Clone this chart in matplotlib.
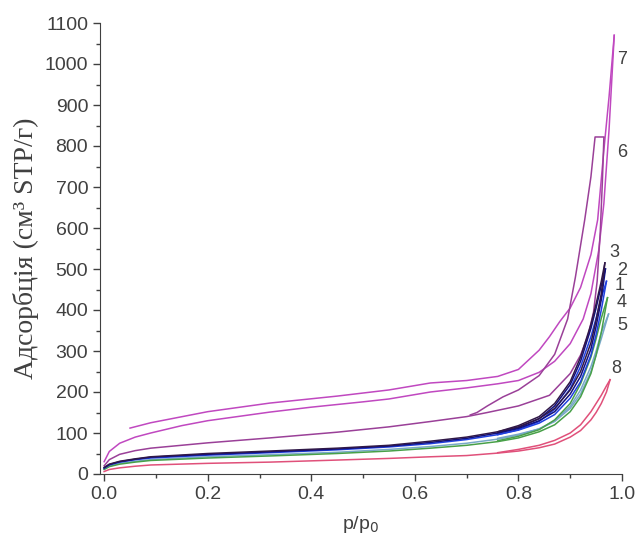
import matplotlib.pyplot as plt
from matplotlib.ticker import MultipleLocator

# isotherms: adsorption branch (a) and desorption branch (d) for each sample
p7a = [0.0, 0.01, 0.03, 0.06, 0.09, 0.15, 0.2, 0.28, 0.32, 0.4, 0.5, 0.55, 0.63, 0.7, 0.76, 0.8, 0.84, 0.87, 0.9, 0.925, 0.94, 0.955, 0.965, 0.975, 0.985]
v7a = [30, 55, 75, 90, 100, 118, 130, 144, 151, 163, 176, 183, 200, 210, 220, 228, 248, 275, 318, 378, 440, 545, 660, 840, 1070]
p7d = [0.985, 0.975, 0.965, 0.953, 0.94, 0.92, 0.9, 0.88, 0.86, 0.84, 0.8, 0.76, 0.7, 0.63, 0.55, 0.45, 0.32, 0.2, 0.09, 0.05]
v7d = [1070, 920, 790, 620, 535, 455, 405, 372, 335, 302, 255, 238, 228, 222, 205, 190, 173, 152, 125, 112]

p6a = [0.0, 0.01, 0.03, 0.06, 0.09, 0.2, 0.32, 0.45, 0.55, 0.63, 0.7, 0.74, 0.8, 0.86, 0.9, 0.92, 0.935, 0.945, 0.952, 0.958, 0.962, 0.965]
v6a = [20, 35, 48, 57, 63, 76, 88, 102, 115, 128, 140, 150, 166, 192, 245, 290, 340, 395, 470, 590, 710, 820]
p6d = [0.965, 0.948, 0.94, 0.928, 0.91, 0.895, 0.87, 0.84, 0.8, 0.77, 0.74, 0.72, 0.707]
v6d = [822, 822, 725, 620, 480, 378, 292, 240, 205, 188, 166, 150, 144]

p3a = [0.0, 0.01, 0.03, 0.06, 0.09, 0.2, 0.32, 0.45, 0.55, 0.63, 0.7, 0.76, 0.8, 0.84, 0.87, 0.9, 0.92, 0.94, 0.95, 0.96, 0.967]
v3a = [16, 24, 31, 37, 42, 50, 56, 63, 70, 80, 90, 103, 115, 135, 160, 205, 250, 320, 375, 440, 515]
p3d = [0.967, 0.96, 0.95, 0.94, 0.92, 0.9, 0.87, 0.84, 0.8, 0.76]
v3d = [515, 470, 415, 365, 285, 225, 172, 140, 118, 103]

p2a = [0.0, 0.01, 0.03, 0.06, 0.09, 0.2, 0.32, 0.45, 0.55, 0.63, 0.7, 0.76, 0.8, 0.84, 0.87, 0.9, 0.92, 0.94, 0.95, 0.96, 0.968]
v2a = [15, 23, 30, 36, 41, 48, 54, 61, 68, 77, 87, 100, 111, 130, 152, 195, 238, 305, 360, 425, 500]
p2d = [0.968, 0.96, 0.95, 0.94, 0.92, 0.9, 0.87, 0.84, 0.8, 0.76]
v2d = [500, 460, 405, 355, 275, 218, 166, 135, 113, 100]

p1a = [0.0, 0.01, 0.03, 0.06, 0.09, 0.2, 0.32, 0.45, 0.55, 0.63, 0.7, 0.76, 0.8, 0.84, 0.87, 0.9, 0.92, 0.94, 0.95, 0.96, 0.97]
v1a = [14, 22, 29, 35, 39, 46, 52, 59, 66, 74, 84, 96, 107, 124, 145, 185, 225, 290, 340, 400, 470]
p1d = [0.97, 0.96, 0.95, 0.94, 0.92, 0.9, 0.87, 0.84, 0.8, 0.76]
v1d = [470, 430, 380, 335, 262, 208, 158, 128, 108, 96]

p4a = [0.0, 0.01, 0.03, 0.06, 0.09, 0.2, 0.32, 0.45, 0.55, 0.63, 0.7, 0.76, 0.8, 0.84, 0.87, 0.9, 0.92, 0.94, 0.95, 0.96, 0.972]
v4a = [11, 18, 24, 29, 33, 39, 44, 50, 56, 63, 70, 79, 88, 103, 120, 152, 188, 245, 290, 345, 430]
p4d = [0.972, 0.96, 0.95, 0.94, 0.92, 0.9, 0.87, 0.84, 0.8, 0.76]
v4d = [430, 380, 330, 285, 220, 172, 132, 108, 92, 81]

p5a = [0.0, 0.01, 0.03, 0.06, 0.09, 0.2, 0.32, 0.45, 0.55, 0.63, 0.7, 0.76, 0.8, 0.84, 0.87, 0.9, 0.92, 0.94, 0.95, 0.96, 0.974]
v5a = [12, 19, 26, 31, 35, 42, 47, 53, 60, 67, 75, 85, 95, 110, 128, 160, 195, 250, 290, 330, 390]
p5d = [0.974, 0.96, 0.95, 0.94, 0.92, 0.9, 0.87, 0.84, 0.8, 0.76]
v5d = [390, 345, 300, 262, 205, 165, 130, 110, 97, 87]

p8a = [0.0, 0.01, 0.03, 0.06, 0.09, 0.2, 0.32, 0.45, 0.55, 0.63, 0.7, 0.76, 0.8, 0.84, 0.87, 0.9, 0.92, 0.94, 0.95, 0.96, 0.97, 0.977]
v8a = [6, 11, 15, 19, 22, 26, 29, 34, 38, 42, 45, 51, 56, 64, 73, 90, 106, 132, 150, 172, 200, 230]
p8d = [0.977, 0.97, 0.96, 0.94, 0.92, 0.9, 0.87, 0.84, 0.8, 0.76]
v8d = [230, 215, 192, 152, 120, 100, 82, 70, 60, 52]

series = [
    ("7", p7a, v7a, p7d, v7d, "#c048c0"),
    ("6", p6a, v6a, p6d, v6d, "#9a4098"),
    ("5", p5a, v5a, p5d, v5d, "#78a8c8"),
    ("4", p4a, v4a, p4d, v4d, "#48a048"),
    ("1", p1a, v1a, p1d, v1d, "#2040e0"),
    ("2", p2a, v2a, p2d, v2d, "#101080"),
    ("3", p3a, v3a, p3d, v3d, "#301848"),
    ("8", p8a, v8a, p8d, v8d, "#e0507a"),
]

# where the curve numbers sit
lab_x = {"7": 0.99, "6": 0.99, "3": 0.975, "2": 0.99, "1": 0.985, "4": 0.99, "5": 0.99, "8": 0.98}
lab_y = {"7": 1010, "6": 785, "3": 540, "2": 497, "1": 460, "4": 418, "5": 362, "8": 258}

fig = plt.figure(figsize=(6.35, 5.47), dpi=100)
ax = fig.add_axes([100/635, 1 - 474/547, 522/635, 451/547])

for name, pa, va, pd_, vd, c in series:
    ax.plot(pa, va, color=c, lw=1.1)
    ax.plot(pd_, vd, color=c, lw=1.1)

for name in lab_x:
    ax.text(lab_x[name], lab_y[name], name, fontsize=13, color="#404040",
            ha="left", va="center", family="Liberation Sans", clip_on=False)

ax.set_xlim(-0.008, 1.0)
ax.set_ylim(0, 1100)
ax.xaxis.set_major_locator(MultipleLocator(0.2))
ax.xaxis.set_minor_locator(MultipleLocator(0.1))
ax.yaxis.set_major_locator(MultipleLocator(100))
ax.yaxis.set_minor_locator(MultipleLocator(50))
ax.tick_params(which="major", direction="out", length=5, width=1, labelsize=14, colors="#404040")
ax.tick_params(which="minor", direction="out", length=3, width=1, colors="#404040")
for lbl in ax.get_xticklabels() + ax.get_yticklabels():
    lbl.set_family("Liberation Sans")
ax.spines["top"].set_visible(False)
ax.spines["right"].set_visible(False)
ax.spines["left"].set_color("#404040")
ax.spines["bottom"].set_color("#404040")

ax.set_xlabel("p/p$_0$", fontsize=14, color="#404040", family="Liberation Sans", labelpad=8)
ax.set_ylabel("Адсорбція (см³ STP/г)", fontsize=20, color="#404040", family="Liberation Serif", labelpad=4)

fig.savefig("out.png", dpi=100)
